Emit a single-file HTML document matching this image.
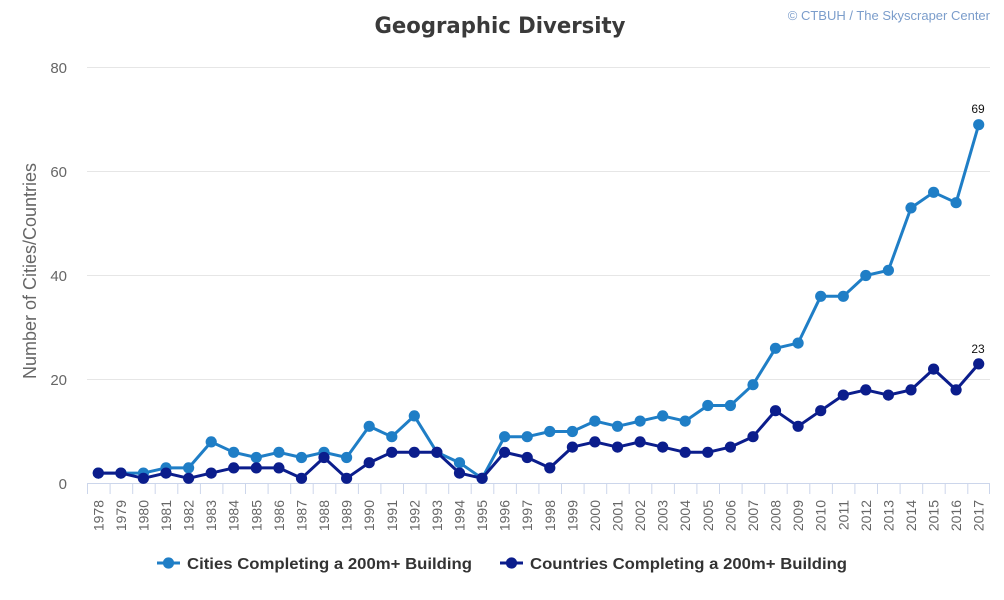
<!DOCTYPE html>
<html><head><meta charset="utf-8"><style>
html,body{margin:0;padding:0;background:#fff;}
svg{display:block;font-family:"Liberation Sans",Arial,sans-serif;}
</style></head><body>
<svg width="1004" height="600" viewBox="0 0 1004 600" xmlns="http://www.w3.org/2000/svg">
<defs>
<marker id="mc" markerUnits="userSpaceOnUse" markerWidth="14" markerHeight="14" refX="7" refY="7" viewBox="0 0 14 14"><circle cx="7" cy="7" r="5.6" fill="#1f7ec6"/></marker>
<marker id="mn" markerUnits="userSpaceOnUse" markerWidth="14" markerHeight="14" refX="7" refY="7" viewBox="0 0 14 14"><circle cx="7" cy="7" r="5.6" fill="#0b1d8c"/></marker>
</defs>
<rect width="1004" height="600" fill="#fff"/>
<text x="500" y="33" text-anchor="middle" font-family="'DejaVu Sans','Liberation Sans',sans-serif" font-weight="bold" font-size="22" fill="#3a3a3a" textLength="251" lengthAdjust="spacingAndGlyphs">Geographic Diversity</text>
<text x="990" y="20" text-anchor="end" font-size="13" fill="#7b9dcb">© CTBUH / The Skyscraper Center</text>
<g stroke="#e6e6e6" stroke-width="1">
<line x1="87" y1="67.5" x2="990" y2="67.5"/>
<line x1="87" y1="171.5" x2="990" y2="171.5"/>
<line x1="87" y1="275.5" x2="990" y2="275.5"/>
<line x1="87" y1="379.5" x2="990" y2="379.5"/>
</g>
<g font-size="15" fill="#666" text-anchor="end">
<text x="67" y="73">80</text>
<text x="67" y="177">60</text>
<text x="67" y="281">40</text>
<text x="67" y="385">20</text>
<text x="67" y="489">0</text>
</g>
<text transform="translate(36,271) rotate(-90)" text-anchor="middle" font-size="18" fill="#666">Number of Cities/Countries</text>
<g stroke="#ccd6eb" stroke-width="1">
<line x1="87" y1="483.5" x2="990" y2="483.5"/>
<path d="M87.5 483.5V494M110.1 483.5V494M132.7 483.5V494M155.2 483.5V494M177.8 483.5V494M200.4 483.5V494M222.9 483.5V494M245.5 483.5V494M268.1 483.5V494M290.7 483.5V494M313.2 483.5V494M335.8 483.5V494M358.4 483.5V494M380.9 483.5V494M403.5 483.5V494M426.1 483.5V494M448.7 483.5V494M471.2 483.5V494M493.8 483.5V494M516.4 483.5V494M538.9 483.5V494M561.5 483.5V494M584.1 483.5V494M606.7 483.5V494M629.2 483.5V494M651.8 483.5V494M674.4 483.5V494M696.9 483.5V494M719.5 483.5V494M742.1 483.5V494M764.7 483.5V494M787.2 483.5V494M809.8 483.5V494M832.4 483.5V494M854.9 483.5V494M877.5 483.5V494M900.1 483.5V494M922.7 483.5V494M945.2 483.5V494M967.8 483.5V494M989.5 483.5V494"/>
</g>
<g font-size="14" fill="#666" text-anchor="end">
<text transform="translate(103.3,500) rotate(-90)">1978</text>
<text transform="translate(125.9,500) rotate(-90)">1979</text>
<text transform="translate(148.4,500) rotate(-90)">1980</text>
<text transform="translate(171.0,500) rotate(-90)">1981</text>
<text transform="translate(193.6,500) rotate(-90)">1982</text>
<text transform="translate(216.2,500) rotate(-90)">1983</text>
<text transform="translate(238.7,500) rotate(-90)">1984</text>
<text transform="translate(261.3,500) rotate(-90)">1985</text>
<text transform="translate(283.9,500) rotate(-90)">1986</text>
<text transform="translate(306.5,500) rotate(-90)">1987</text>
<text transform="translate(329.0,500) rotate(-90)">1988</text>
<text transform="translate(351.6,500) rotate(-90)">1989</text>
<text transform="translate(374.2,500) rotate(-90)">1990</text>
<text transform="translate(396.8,500) rotate(-90)">1991</text>
<text transform="translate(419.3,500) rotate(-90)">1992</text>
<text transform="translate(441.9,500) rotate(-90)">1993</text>
<text transform="translate(464.5,500) rotate(-90)">1994</text>
<text transform="translate(487.1,500) rotate(-90)">1995</text>
<text transform="translate(509.6,500) rotate(-90)">1996</text>
<text transform="translate(532.2,500) rotate(-90)">1997</text>
<text transform="translate(554.8,500) rotate(-90)">1998</text>
<text transform="translate(577.4,500) rotate(-90)">1999</text>
<text transform="translate(599.9,500) rotate(-90)">2000</text>
<text transform="translate(622.5,500) rotate(-90)">2001</text>
<text transform="translate(645.1,500) rotate(-90)">2002</text>
<text transform="translate(667.7,500) rotate(-90)">2003</text>
<text transform="translate(690.2,500) rotate(-90)">2004</text>
<text transform="translate(712.8,500) rotate(-90)">2005</text>
<text transform="translate(735.4,500) rotate(-90)">2006</text>
<text transform="translate(758.0,500) rotate(-90)">2007</text>
<text transform="translate(780.5,500) rotate(-90)">2008</text>
<text transform="translate(803.1,500) rotate(-90)">2009</text>
<text transform="translate(825.7,500) rotate(-90)">2010</text>
<text transform="translate(848.3,500) rotate(-90)">2011</text>
<text transform="translate(870.8,500) rotate(-90)">2012</text>
<text transform="translate(893.4,500) rotate(-90)">2013</text>
<text transform="translate(916.0,500) rotate(-90)">2014</text>
<text transform="translate(938.6,500) rotate(-90)">2015</text>
<text transform="translate(961.1,500) rotate(-90)">2016</text>
<text transform="translate(983.7,500) rotate(-90)">2017</text>
</g>
<polyline fill="none" stroke="#1f7ec6" stroke-width="3" stroke-linejoin="round" marker-start="url(#mc)" marker-mid="url(#mc)" marker-end="url(#mc)" points="98.3,473.1 120.9,473.1 143.4,473.1 166.0,467.9 188.6,467.9 211.2,441.9 233.7,452.3 256.3,457.5 278.9,452.3 301.5,457.5 324.0,452.3 346.6,457.5 369.2,426.3 391.8,436.7 414.3,415.9 436.9,452.3 459.5,462.7 482.1,478.3 504.6,436.7 527.2,436.7 549.8,431.5 572.4,431.5 594.9,421.1 617.5,426.3 640.1,421.1 662.7,415.9 685.2,421.1 707.8,405.5 730.4,405.5 753.0,384.7 775.5,348.3 798.1,343.1 820.7,296.3 843.3,296.3 865.8,275.5 888.4,270.3 911.0,207.9 933.6,192.3 956.1,202.7 978.7,124.7"/>
<polyline fill="none" stroke="#0b1d8c" stroke-width="3" stroke-linejoin="round" marker-start="url(#mn)" marker-mid="url(#mn)" marker-end="url(#mn)" points="98.3,473.1 120.9,473.1 143.4,478.3 166.0,473.1 188.6,478.3 211.2,473.1 233.7,467.9 256.3,467.9 278.9,467.9 301.5,478.3 324.0,457.5 346.6,478.3 369.2,462.7 391.8,452.3 414.3,452.3 436.9,452.3 459.5,473.1 482.1,478.3 504.6,452.3 527.2,457.5 549.8,467.9 572.4,447.1 594.9,441.9 617.5,447.1 640.1,441.9 662.7,447.1 685.2,452.3 707.8,452.3 730.4,447.1 753.0,436.7 775.5,410.7 798.1,426.3 820.7,410.7 843.3,395.1 865.8,389.9 888.4,395.1 911.0,389.9 933.6,369.1 956.1,389.9 978.7,363.9"/>
<text x="978" y="113" text-anchor="middle" font-size="12" fill="#111">69</text>
<text x="978" y="353" text-anchor="middle" font-size="12" fill="#111">23</text>
<line x1="157" y1="563" x2="180" y2="563" stroke="#1f7ec6" stroke-width="3"/>
<circle cx="168.5" cy="563" r="5.6" fill="#1f7ec6"/>
<text x="187" y="569" font-size="16" font-weight="bold" fill="#333" textLength="285" lengthAdjust="spacingAndGlyphs">Cities Completing a 200m+ Building</text>
<line x1="500" y1="563" x2="523" y2="563" stroke="#0b1d8c" stroke-width="3"/>
<circle cx="511.5" cy="563" r="5.6" fill="#0b1d8c"/>
<text x="530" y="569" font-size="16" font-weight="bold" fill="#333" textLength="317" lengthAdjust="spacingAndGlyphs">Countries Completing a 200m+ Building</text>
</svg>
</body></html>
